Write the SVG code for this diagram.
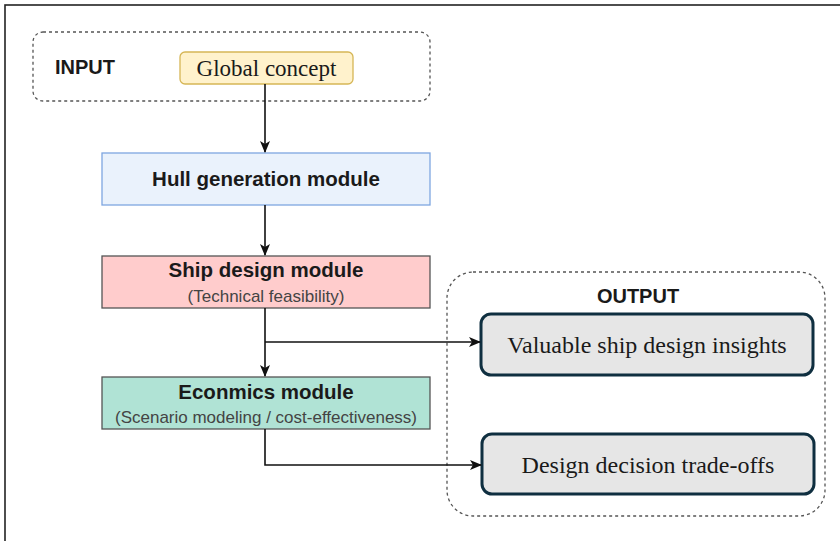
<svg xmlns="http://www.w3.org/2000/svg" width="840" height="541" viewBox="0 0 840 541">
  <defs>
    <marker id="arrow" viewBox="0 0 12 12" refX="11" refY="6" markerWidth="12" markerHeight="12" markerUnits="userSpaceOnUse" orient="auto">
      <path d="M0,1 L12,6 L0,11 L3,6 Z" fill="#111"/>
    </marker>
    <style>
      .frame { fill: none; stroke: #222; stroke-width: 1.6; }
      .group { fill: none; stroke: #555; stroke-width: 1.3; stroke-dasharray: 3 3; }
      .module { stroke-width: 1.3; }
      .out { fill: #e6e6e6; stroke: #0f2f40; stroke-width: 3; }
      .edge { fill: none; stroke: #111; stroke-width: 1.6; }
      .sans { font-family: "Liberation Sans", Arial, sans-serif; fill: #1a1a1a; }
      .serif { font-family: "Liberation Serif", "Times New Roman", serif; fill: #1a1a1a; }
      .title { font-size: 20.5px; font-weight: bold; }
      .sub { font-size: 17px; fill: #444; }
      .label { font-size: 20px; font-weight: bold; }
    </style>
  </defs>

  <rect width="840" height="541" fill="#ffffff"/>
  <rect class="frame" x="5" y="5" width="850" height="560"/>

  <g id="input-group">
    <rect class="group" x="33" y="32" width="397" height="69" rx="10"/>
    <text class="sans label" x="55" y="74">INPUT</text>
  </g>

  <g id="global-concept">
    <rect x="180" y="52" width="173" height="32" rx="5" fill="#fff2cc" stroke="#d6b656" stroke-width="1.3"/>
    <text class="serif" x="266.5" y="76" font-size="23" text-anchor="middle">Global concept</text>
  </g>

  <g id="hull-module">
    <rect class="module" x="102" y="153" width="328" height="52" fill="#eaf2fc" stroke="#7ea6e0"/>
    <text class="sans title" x="266" y="186" text-anchor="middle">Hull generation module</text>
  </g>

  <g id="ship-module">
    <rect class="module" x="102" y="256" width="328" height="52" fill="#ffcccc" stroke="#555"/>
    <text class="sans title" x="266" y="277" text-anchor="middle">Ship design module</text>
    <text class="sans sub" x="266" y="302" text-anchor="middle">(Technical feasibility)</text>
  </g>

  <g id="economics-module">
    <rect class="module" x="102" y="377" width="328" height="52" fill="#b0e3d5" stroke="#555"/>
    <text class="sans title" x="266" y="399" text-anchor="middle">Econmics module</text>
    <text class="sans sub" x="266" y="423" text-anchor="middle">(Scenario modeling / cost-effectiveness)</text>
  </g>

  <g id="output-group">
    <rect class="group" x="447" y="272" width="378" height="244" rx="26"/>
    <text class="sans label" x="638" y="303" text-anchor="middle">OUTPUT</text>
  </g>

  <g id="insights">
    <rect class="out" x="481" y="314" width="332" height="61" rx="10"/>
    <text class="serif" x="647" y="353" font-size="24" text-anchor="middle">Valuable ship design insights</text>
  </g>

  <g id="trade-offs">
    <rect class="out" x="482" y="434" width="332" height="60" rx="10"/>
    <text class="serif" x="648" y="473" font-size="24" text-anchor="middle">Design decision trade-offs</text>
  </g>

  <g id="connectors">
    <path class="edge" d="M265,84 V152" marker-end="url(#arrow)"/>
    <path class="edge" d="M265,205 V255" marker-end="url(#arrow)"/>
    <path class="edge" d="M265,308 V376" marker-end="url(#arrow)"/>
    <path class="edge" d="M265,342 H480" marker-end="url(#arrow)"/>
    <path class="edge" d="M265,429 V465 H481" marker-end="url(#arrow)"/>
  </g>
</svg>
